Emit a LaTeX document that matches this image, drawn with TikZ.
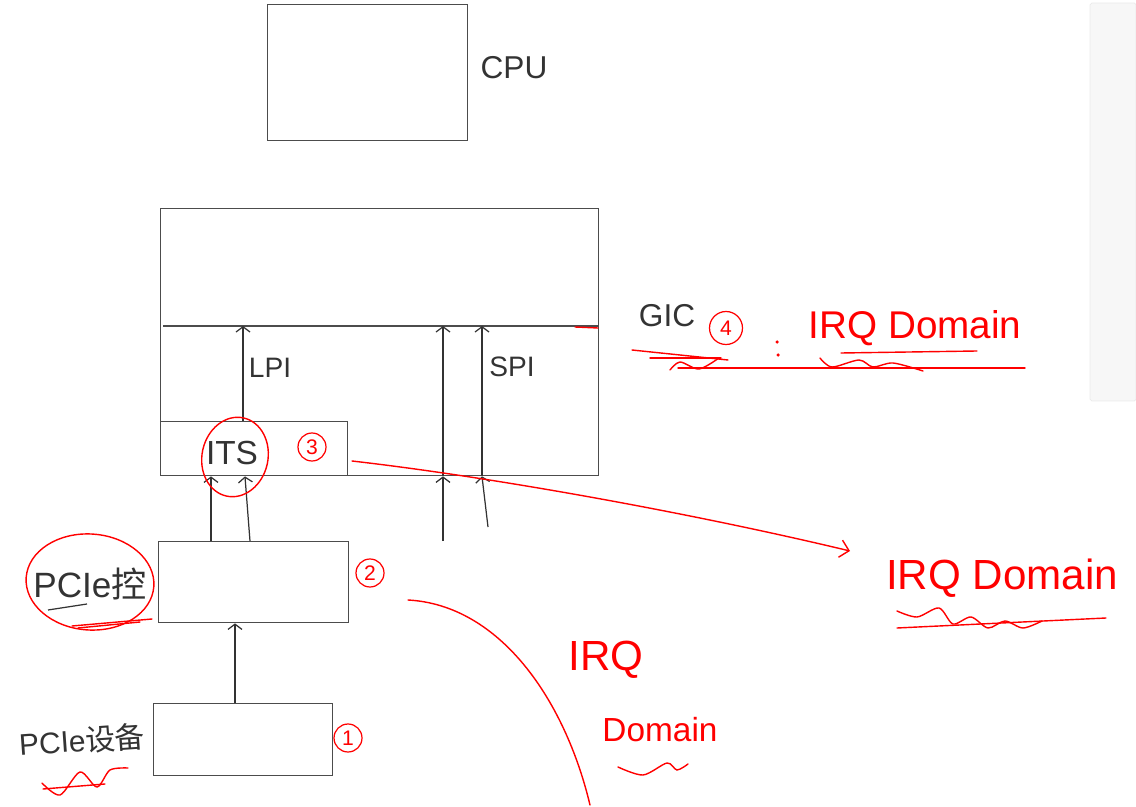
\documentclass[tikz,border=0pt]{standalone}
\usepackage{fontspec}
\setmainfont{Liberation Sans}
\newfontfamily\cjk{Noto Sans CJK SC}
\usetikzlibrary{arrows.meta}

\tikzset{
    box/.style={draw=black!70, line width=0.8pt, anchor=north west, inner sep=0pt},
    arr/.style={draw=black!80, line width=0.7pt, -{Straight Barb[length=3pt, width=8pt]}},
    hand/.style={text=black!80, inner sep=0pt, font=\fontsize{18}{20}\selectfont},
    note/.style={text=red, inner sep=0pt, font=\fontsize{22}{24}\selectfont},
    num/.style={circle, draw=red, text=red, line width=0.7pt, minimum size=0.56cm, inner sep=0pt, font=\fontsize{12}{12}\selectfont},
    pen/.style={red, line width=0.8pt, line cap=round},
}

\begin{document}
\begin{tikzpicture}[x=0.02cm, y=-0.02cm]
    \useasboundingbox (0,0) rectangle (1136,807);

    % Side panel
    \fill[black!3, draw=black!8, rounded corners=1pt] (1090,3) rectangle (1136,401);

    % CPU
    \node[box, minimum width=4cm, minimum height=2.72cm] (cpu) at (267,4) {};
    \node[hand] (cpuname) at (514,68) {CPU};

    % GIC box with its split line
    \node[box, minimum width=8.76cm, minimum height=5.34cm] (gic) at (160,208) {};
    \coordinate (split) at (163,326);
    \draw[black!70, line width=0.8pt] (split) -- (split -| gic.east);
    \node[hand] (gicname) at (667,316) {GIC};

    % ITS inside GIC
    \node[box, minimum width=3.74cm, minimum height=1.08cm] (its) at (160,421) {};
    \node[hand, font=\fontsize{19}{20}\selectfont] (itsname) at (232,453) {ITS};

    % LPI arrow
    \coordinate (lpi) at (243,326);
    \draw[arr] (its.north -| lpi) -- (lpi);
    \node[hand, font=\fontsize{16}{18}\selectfont] (lpiname) at (270,368) {LPI};

    % SPI arrows
    \coordinate (spiA) at (443,326);
    \coordinate (spiB) at (482,326);
    \coordinate (spiA0) at (443,541);
    \coordinate (spiB0) at (488,527);
    \draw[arr] (spiA0) -- (spiA0 |- gic.south);
    \draw[arr] (spiB0) -- (spiB |- gic.south);
    \draw[arr] (gic.south -| spiA) -- (spiA);
    \draw[arr] (gic.south -| spiB) -- (spiB);
    \node[hand, font=\fontsize{16}{18}\selectfont] (spiname) at (512,367) {SPI};

    % PCIe controller
    \node[box, minimum width=3.8cm, minimum height=1.62cm] (ctrl) at (158,541) {};
    \node[hand, font=\fontsize{20}{22}\selectfont] (ctrlname) at (90,584) {PCIe{\cjk 控}};
    \draw[arr] ([xshift=1.06cm]ctrl.north west) -- ([xshift=1.06cm]ctrl.north west |- its.south);
    \draw[arr] ([xshift=1.84cm]ctrl.north west) -- ([xshift=1.74cm]ctrl.north west |- its.south);

    % PCIe device
    \node[box, minimum width=3.58cm, minimum height=1.44cm] (dev) at (153,703) {};
    \node[hand, font=\fontsize{17}{20}\selectfont, rotate=4] (devname) at (82,740) {PCIe{\cjk 设备}};
    \draw[arr] ([xshift=1.64cm]dev.north west) -- ([xshift=1.64cm]dev.north west |- ctrl.south);

    % Circled numbers
    \node[num] (n1) at (348,738) {1};
    \node[num] (n2) at (370,573) {2};
    \node[num] (n3) at (312,447) {3};
    \node[num, minimum size=0.66cm] (n4) at (726,328) {4};

    % Red notes
    \draw[pen, rotate around={-12:(235,457)}] (235,457) ellipse [x radius=0.66cm, y radius=0.8cm];
    \draw[pen, rotate around={-4:(90,582)}] (90,582) ellipse [x radius=1.28cm, y radius=0.96cm];
    \draw[black!80, line width=0.7pt] (48,610) -- (87,604);
    \draw[pen] (72,626) -- (152,619);
    \draw[pen] (78,628) -- (140,622);
    \draw[pen] plot[smooth] coordinates {(42,783) (60,795) (80,772) (97,787) (110,770) (128,768)};
    \draw[pen] (43,789) -- (105,784);

    % GIC note
    \fill[red] (777,342) circle (1pt) (778,355) circle (1pt);
    \node[note] (dom1) at (915,328) {IRQ Domain};
    \draw[pen] (632,350) -- (728,360);
    \draw[pen] (650,358) -- (721,358);
    \draw[pen] plot[smooth] coordinates {(670,370) (680,362) (699,369) (719,358)};
    \draw[pen] (678,368) -- (1025,368);
    \draw[pen] (841,353) -- (977,351);
    \draw[pen] plot[smooth] coordinates {(820,358) (832,367) (859,360) (873,367) (893,363) (923,371)};
    \draw[pen] (575,327) -- (598,328);

    % ITS note
    \coordinate (c3) at (352,461);
    \draw[pen, -{Straight Barb[length=5pt, width=10pt]}] (c3) .. controls (500,478) and (700,515) .. (850,551);
    \node[note, font=\fontsize{24}{26}\selectfont] (dom2) at (1002,578) {IRQ Domain};
    \draw[pen] plot[smooth] coordinates {(897,611) (917,617) (939,608) (953,624) (971,617) (988,628) (1005,621) (1023,628) (1042,621)};
    \draw[pen] (897,628) -- (1106,618);

    % PCIe controller note
    \coordinate (c2) at (408,600);
    \coordinate (c2end) at (590,805);
    \draw[pen] (c2) .. controls (500,605) and (565,700) .. (c2end);
    \node[note, font=\fontsize{24}{26}\selectfont] (irq3) at (606,660) {IRQ};
    \node[note, font=\fontsize{19}{22}\selectfont] (dom3) at (660,730) {Domain};
    \draw[pen] plot[smooth] coordinates {(618,767) (643,775) (667,763) (677,770) (688,764)};
\end{tikzpicture}
\end{document}
